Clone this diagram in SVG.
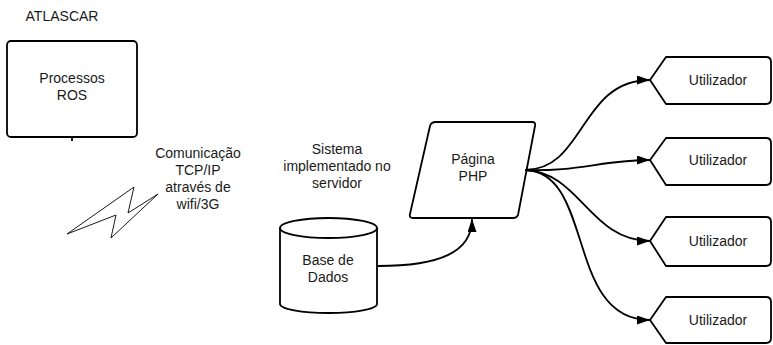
<svg xmlns="http://www.w3.org/2000/svg" width="773" height="345" viewBox="0 0 773 345">
<defs>
<style>
.s{fill:#fff;stroke:#000;stroke-width:1.8;stroke-linejoin:round}
.t{font-family:"Liberation Sans",Arial,sans-serif;font-size:14px;fill:#1a1a1a;text-anchor:middle}
.c{fill:none;stroke:#000;stroke-width:1.8}
</style>
<marker id="a" viewBox="0 0 13 9" refX="13" refY="4.5" markerWidth="13" markerHeight="9" orient="auto" markerUnits="userSpaceOnUse">
<path d="M0,0 L13,4.5 L0,9 Z" fill="#000"/>
</marker>
</defs>
<rect width="773" height="345" fill="#fff"/>
<text class="t" x="62" y="21">ATLASCAR</text>
<g id="processos">
<rect class="s" x="7" y="41" width="130" height="96" rx="4"/>
<text class="t" x="72" y="83">Processos</text>
<text class="t" x="72" y="100">ROS</text>
</g>
<g id="comunicacao">
<polygon points="67,234 134,187 128,213 158,194 111,238 116,215" fill="none" stroke="#000" stroke-width="0.9" stroke-linejoin="miter"/>
<text class="t" x="198" y="158">Comunicação</text>
<text class="t" x="198" y="175">TCP/IP</text>
<text class="t" x="198" y="192">através de</text>
<text class="t" x="198" y="209">wifi/3G</text>
</g>
<g id="sistema">
<text class="t" x="337" y="154">Sistema</text>
<text class="t" x="337" y="171">implementado no</text>
<text class="t" x="337" y="188">servidor</text>
</g>
<g id="basedados">
<path class="s" d="M280,228 A48.5,10 0 0 1 377,228 L377,304 A48.5,9 0 0 1 280,304 Z"/>
<path class="c" d="M280,228 A48.5,10 0 0 0 377,228"/>
<text class="t" x="328" y="265">Base de</text>
<text class="t" x="328" y="282">Dados</text>
</g>
<g id="php">
<path class="s" d="M436,122 L532,122 Q536,122 535,126 L518,215 Q517,218 513,218 L413,218 Q409,218 410,214 L430,126 Q431,122 436,122 Z"/>
<text class="t" x="473" y="164">Página</text>
<text class="t" x="473" y="181">PHP</text>
</g>
<g id="u1">
<path class="s" d="M650,80 L666,57 L766,57 Q771,57 771,62 L771,99 Q771,104 766,104 L666,104 Z"/>
<text class="t" x="718" y="85">Utilizador</text>
</g>
<g id="u2">
<path class="s" d="M650,160 L666,138 L766,138 Q771,138 771,143 L771,180 Q771,185 766,185 L666,185 Z"/>
<text class="t" x="718" y="165">Utilizador</text>
</g>
<g id="u3">
<path class="s" d="M650,241 L666,217 L766,217 Q771,217 771,222 L771,261 Q771,266 766,266 L666,266 Z"/>
<text class="t" x="718" y="246">Utilizador</text>
</g>
<g id="u4">
<path class="s" d="M650,320 L666,297 L766,297 Q771,297 771,302 L771,338 Q771,343 766,343 L666,343 Z"/>
<text class="t" x="718" y="325">Utilizador</text>
</g>
<g id="connectors">
<line class="c" x1="72" y1="137" x2="72" y2="141"/>
<path class="c" d="M378,266 C440,266 472,252 472,219" marker-end="url(#a)"/>
<path class="c" d="M525,170 C585,170 580,80 650,80" marker-end="url(#a)"/>
<path class="c" d="M525,170 C575,172 605,160 650,160" marker-end="url(#a)"/>
<path class="c" d="M525,170 C580,172 590,241 650,241" marker-end="url(#a)"/>
<path class="c" d="M525,170 C595,172 565,320 650,320" marker-end="url(#a)"/>
</g>
</svg>
